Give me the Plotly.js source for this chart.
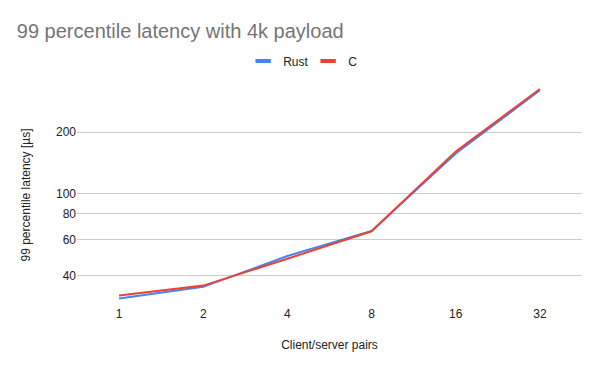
<!DOCTYPE html>
<html>
<head>
<meta charset="utf-8">
<script src="https://cdn.plot.ly/plotly-3.0.1.min.js"></script>
<style>html,body{margin:0;padding:0;background:#fff;}#chart{width:600px;height:371px;}</style>
</head>
<body>
<div id="chart"></div>
<script>
const categories = ["1", "2", "4", "8", "16", "32"];
const rustLatency = [30.9, 35.2, 49.8, 66.0, 157.6, 320.6];
const cLatency = [31.9, 35.7, 48.3, 65.7, 160.8, 325.3];
const yTickVals = [40, 60, 80, 100, 200];
const yTickText = ["40", "60", "80", "100", "200"];
const seriesNames = ["Rust", "C"];
const seriesColors = ["#4285F4", "#EA4335"];

const font = "Liberation Sans, Arial, sans-serif";
const traces = [
  {x: categories, y: rustLatency, type: "scatter", mode: "lines", name: seriesNames[0],
   line: {color: seriesColors[0], width: 2}, showlegend: false, hoverinfo: "skip"},
  {x: categories, y: cLatency, type: "scatter", mode: "lines", name: seriesNames[1],
   line: {color: seriesColors[1], width: 2}, showlegend: false, hoverinfo: "skip"},
  {x: [null], y: [null], type: "scatter", mode: "markers", name: seriesNames[0],
   marker: {symbol: "line-ew", size: 11, line: {color: seriesColors[0], width: 4}}},
  {x: [null], y: [null], type: "scatter", mode: "markers", name: seriesNames[1],
   marker: {symbol: "line-ew", size: 11, line: {color: seriesColors[1], width: 4}}}
];

const layout = {
  width: 600, height: 371,
  margin: {l: 77, r: 18, t: 85, b: 66},
  paper_bgcolor: "#fff", plot_bgcolor: "#fff",
  font: {family: font, size: 12, color: "#222"},
  title: {text: "99 percentile latency with 4k payload", x: 0.028, xref: "container", xanchor: "left",
          y: 0.916, yref: "container", yanchor: "middle",
          font: {family: font, size: 20, color: "#757575"}},
  showlegend: true,
  legend: {orientation: "h", x: 0.329, xanchor: "left", y: 1.109, yanchor: "middle",
           font: {family: font, size: 12, color: "#222"}, itemwidth: 30, entrywidth: 20, traceorder: "normal"},
  xaxis: {type: "category", showgrid: false, zeroline: false, showline: false, ticks: "",
          range: [-0.5, 5.5], fixedrange: true,
          title: {text: "Client/server pairs", standoff: 20, font: {family: font, size: 12, color: "#222"}},
          tickfont: {family: font, size: 12, color: "#222"}},
  yaxis: {type: "log", range: [Math.log10(28.7), Math.log10(340)],
          tickvals: yTickVals, ticktext: yTickText, showgrid: true, gridcolor: "#cccccc", gridwidth: 1,
          zeroline: false, showline: false, ticks: "",
          title: {text: "99 percentile latency [µs]", standoff: 22, font: {family: font, size: 12, color: "#222"}},
          tickfont: {family: font, size: 12, color: "#222"}}
};

Plotly.newPlot("chart", traces, layout, {displayModeBar: false, staticPlot: true});
</script>
</body>
</html>
